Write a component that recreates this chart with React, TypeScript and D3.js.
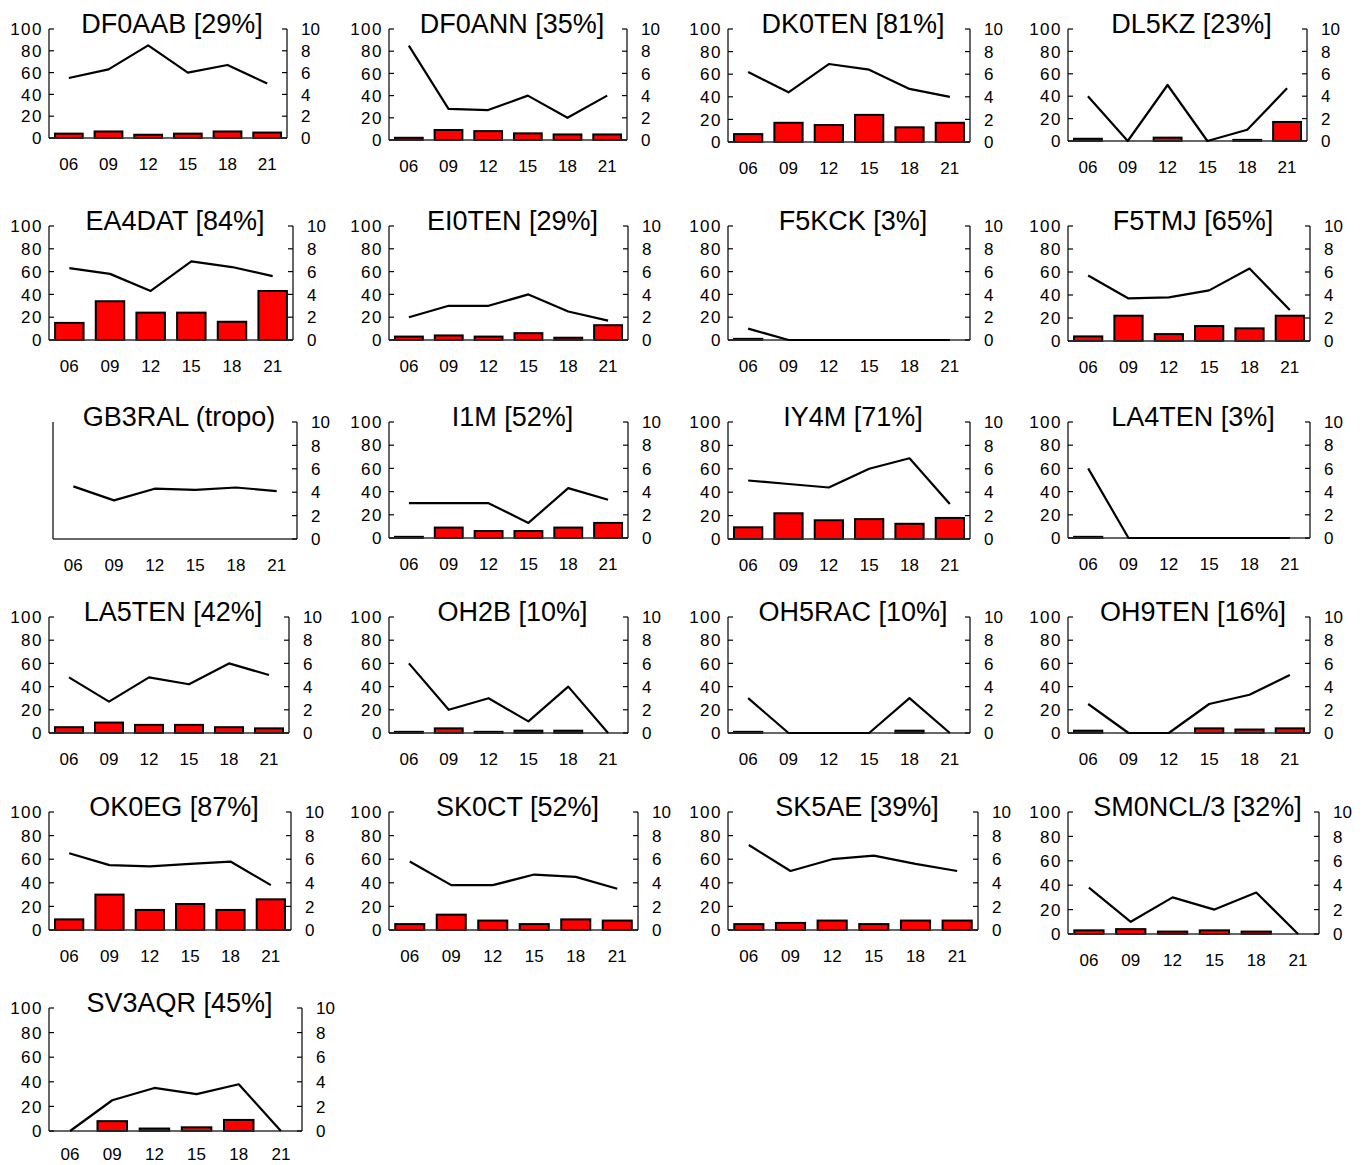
import React from "react";
import * as d3 from "d3";

// ---------- data ----------
const hours = ["06", "09", "12", "15", "18", "21"];

const stations = [
  "DF0AAB [29%]", "DF0ANN [35%]", "DK0TEN [81%]", "DL5KZ [23%]",
  "EA4DAT [84%]", "EI0TEN [29%]", "F5KCK [3%]", "F5TMJ [65%]",
  "GB3RAL (tropo)", "I1M [52%]", "IY4M [71%]", "LA4TEN [3%]",
  "LA5TEN [42%]", "OH2B [10%]", "OH5RAC [10%]", "OH9TEN [16%]",
  "OK0EG [87%]", "SK0CT [52%]", "SK5AE [39%]", "SM0NCL/3 [32%]",
  "SV3AQR [45%]",
];

// percentage of time heard (left axis, bars); null = no bars / no left scale
const barPct: (number[] | null)[] = [
  [4, 6, 3, 4, 6, 5],
  [2, 9, 8, 6, 5, 5],
  [7, 17, 15, 24, 13, 17],
  [2, 0, 3, 0, 1, 17],
  [15, 34, 24, 24, 16, 43],
  [3, 4, 3, 6, 2, 13],
  [1, 0, 0, 0, 0, 0],
  [4, 22, 6, 13, 11, 22],
  null,
  [1, 9, 6, 6, 9, 13],
  [10, 22, 16, 17, 13, 18],
  [1, 0, 0, 0, 0, 0],
  [5, 9, 7, 7, 5, 4],
  [1, 4, 1, 2, 2, 0],
  [1, 0, 0, 0, 2, 0],
  [2, 0, 0, 4, 3, 4],
  [9, 30, 17, 22, 17, 26],
  [5, 13, 8, 5, 9, 8],
  [5, 6, 8, 5, 8, 8],
  [3, 4, 2, 3, 2, 0],
  [0, 8, 2, 3, 9, 0],
];

// signal level (right axis, line)
const lineVal: number[][] = [
  [5.5, 6.3, 8.5, 6.0, 6.7, 5.0],
  [8.5, 2.8, 2.7, 4.0, 2.0, 4.0],
  [6.2, 4.4, 6.9, 6.4, 4.7, 4.0],
  [4.0, 0, 5.0, 0, 1.0, 4.7],
  [6.3, 5.8, 4.3, 6.9, 6.4, 5.6],
  [2.0, 3.0, 3.0, 4.0, 2.5, 1.7],
  [1.0, 0, 0, 0, 0, 0],
  [5.7, 3.7, 3.8, 4.4, 6.3, 2.7],
  [4.5, 3.3, 4.3, 4.2, 4.4, 4.1],
  [3.0, 3.0, 3.0, 1.3, 4.3, 3.3],
  [5.0, 4.7, 4.4, 6.0, 6.9, 3.0],
  [6.0, 0, 0, 0, 0, 0],
  [4.8, 2.7, 4.8, 4.2, 6.0, 5.0],
  [6.0, 2.0, 3.0, 1.0, 4.0, 0],
  [3.0, 0, 0, 0, 3.0, 0],
  [2.5, 0, 0, 2.5, 3.3, 5.0],
  [6.5, 5.5, 5.4, 5.6, 5.8, 3.8],
  [5.8, 3.8, 3.8, 4.7, 4.5, 3.5],
  [7.2, 5.0, 6.0, 6.3, 5.6, 5.0],
  [3.8, 1.0, 3.0, 2.0, 3.4, 0],
  [0, 2.5, 3.5, 3.0, 3.8, 0],
];

const leftTicks = [0, 20, 40, 60, 80, 100];
const rightTicks = [0, 2, 4, 6, 8, 10];

// ---------- layout (plot boxes: left, right, top, bottom) ----------
const boxes: number[][] = [
  [49, 287, 29, 138], [389, 627, 29, 140], [728, 970, 29, 142], [1068, 1307, 29, 141],
  [49, 293, 226, 340], [389, 628, 226, 340], [728, 970, 226, 340], [1068, 1310, 226, 341],
  [53, 297, 422, 539], [389, 628, 422, 538], [728, 970, 422, 539], [1068, 1310, 422, 538],
  [49, 289, 617, 733], [389, 628, 617, 733], [728, 970, 617, 733], [1068, 1310, 617, 733],
  [49, 291, 812, 930], [389, 638, 812, 930], [728, 978, 812, 930], [1068, 1319, 812, 934],
  [49, 302, 1008, 1131],
];

const FONT = "'Liberation Sans', Arial, Helvetica, sans-serif";

function Panel({ i }: { i: number }) {
  const [l, r, t, b] = boxes[i];
  const bars = barPct[i];
  const x = d3.scaleBand<string>().domain(hours).range([l, r]).paddingInner(0.3).paddingOuter(0.15);
  const yL = d3.scaleLinear().domain([0, 100]).range([b, t]);
  const yR = d3.scaleLinear().domain([0, 10]).range([b, t]);
  const bw = x.bandwidth();
  const cx = (h: string) => (x(h) as number) + bw / 2;
  const line = d3
    .line<number>()
    .x((_, k) => cx(hours[k]))
    .y((v) => yR(v));
  const labelY = Math.min(b + 32, 1160);

  return (
    <g>
      <text x={(l + r) / 2 + 4} y={t + 4} textAnchor="middle" fontSize={27} fontFamily={FONT} fill="#000">
        {stations[i]}
      </text>
      {bars &&
        bars.map((v, k) =>
          v > 0 ? (
            <rect
              key={k}
              x={x(hours[k])}
              y={yL(v)}
              width={bw}
              height={yL(0) - yL(v)}
              fill="#ff0000"
              stroke="#000"
              strokeWidth={2}
            />
          ) : null
        )}
      {/* axes */}
      <line x1={l} x2={l} y1={t} y2={b} stroke="#000" strokeWidth={1.2} />
      <line x1={r} x2={r} y1={t} y2={b} stroke="#000" strokeWidth={1.2} />
      <line x1={l} x2={r} y1={b} y2={b} stroke="#333" strokeWidth={1.6} />
      {bars &&
        leftTicks.map((tv) => (
          <g key={"l" + tv}>
            <line x1={l} x2={l + 5} y1={yL(tv)} y2={yL(tv)} stroke="#000" strokeWidth={1.2} />
            <text
              x={l - 6}
              y={yL(tv)}
              dy="0.36em"
              textAnchor="end"
              fontSize={17}
              letterSpacing={1.5}
              fontFamily={FONT}
            >
              {tv}
            </text>
          </g>
        ))}
      {rightTicks.map((tv) => (
        <g key={"r" + tv}>
          <line x1={r - 5} x2={r} y1={yR(tv)} y2={yR(tv)} stroke="#000" strokeWidth={1.2} />
          <text x={r + 14} y={yR(tv)} dy="0.36em" textAnchor="start" fontSize={17} fontFamily={FONT}>
            {tv}
          </text>
        </g>
      ))}
      {hours.map((h) => (
        <text key={h} x={cx(h)} y={labelY} textAnchor="middle" fontSize={17} fontFamily={FONT}>
          {h}
        </text>
      ))}
      <path d={line(lineVal[i]) || ""} fill="none" stroke="#000" strokeWidth={2.2} strokeLinejoin="round" />
    </g>
  );
}

export default function App() {
  return (
    <svg
      width={1367}
      height={1165}
      style={{ position: "absolute", left: 0, top: 0, background: "#fff" }}
    >
      <rect width={1367} height={1165} fill="#fff" />
      {stations.map((_, i) => (
        <Panel key={i} i={i} />
      ))}
    </svg>
  );
}
